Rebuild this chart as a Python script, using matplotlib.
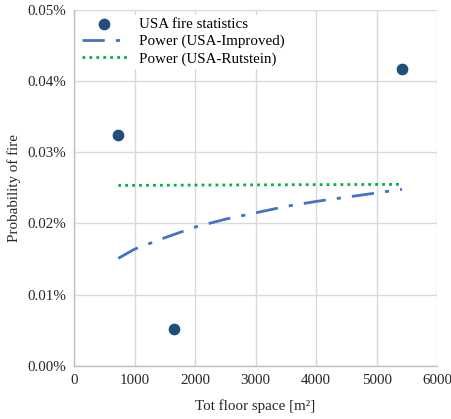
import matplotlib
matplotlib.use("Agg")
import matplotlib.pyplot as plt
from matplotlib.ticker import FuncFormatter

plt.rcParams['font.family'] = ['Liberation Serif', 'DejaVu Serif']

# Data (percent)
stat_x = [730, 1650, 5420]
stat_y = [0.0325, 0.0052, 0.0417]

improved_x = [730, 1000, 1500, 2000, 2500, 3000, 3500, 4000, 4500, 5000, 5420]
improved_y = [0.0151, 0.0164, 0.0180, 0.0195, 0.0206, 0.0215, 0.0224, 0.0231, 0.0237, 0.0243, 0.0248]

rutstein_x = [730, 2000, 3000, 4000, 5420]
rutstein_y = [0.02535, 0.02540, 0.02543, 0.02546, 0.02550]

xticks = [0, 1000, 2000, 3000, 4000, 5000, 6000]
yticks = [0.00, 0.01, 0.02, 0.03, 0.04, 0.05]

fig = plt.figure(figsize=(4.52, 4.19), dpi=100)
ax = fig.add_axes([0.164, 0.127, 0.803, 0.849])

ax.scatter(stat_x, stat_y, s=55, color='#1f4e79', zorder=3, label='USA fire statistics')
ax.plot(improved_x, improved_y, color='#4472c4', lw=2, dashes=(8, 4, 1.5, 4),
        label='Power (USA-Improved)', zorder=2)
ax.plot(rutstein_x, rutstein_y, color='#00b050', lw=2, dashes=(1, 1.5),
        label='Power (USA-Rutstein)', zorder=2)

ax.set_xlim(0, 6000)
ax.set_ylim(0, 0.05)
ax.set_xticks(xticks)
ax.set_yticks(yticks)
ax.yaxis.set_major_formatter(FuncFormatter(lambda v, p: f"{v:.2f}%"))
ax.tick_params(length=0, labelsize=10.8, colors='#262626', pad=6)
ax.grid(True, color='#d9d9d9', lw=1)
ax.set_axisbelow(True)
for s in ['top', 'right']:
    ax.spines[s].set_visible(False)
for s in ['left', 'bottom']:
    ax.spines[s].set_color('#bfbfbf')
    ax.spines[s].set_linewidth(1)

ax.set_xlabel('Tot floor space [m²]', fontsize=10.8, color='#262626', labelpad=9)
ax.set_ylabel('Probability of fire', fontsize=10.8, color='#262626')

leg = ax.legend(loc='upper left', fontsize=10.8, frameon=True, fancybox=False,
                borderpad=0.2, handlelength=3.0, labelspacing=0.25, borderaxespad=0.3,
                bbox_to_anchor=(0.0, 1.0))
leg.get_frame().set_edgecolor('none')
leg.get_frame().set_facecolor('white')
leg.get_frame().set_alpha(1)

fig.savefig('out.png', dpi=100)
